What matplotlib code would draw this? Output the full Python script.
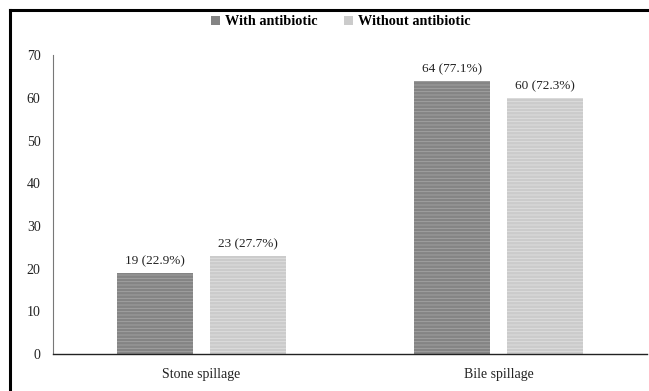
import matplotlib
matplotlib.use("Agg")
import matplotlib.pyplot as plt
from matplotlib.lines import Line2D
from matplotlib.patches import Patch
import numpy as np

plt.rcParams['font.family'] = ['Liberation Serif', 'DejaVu Serif']
plt.rcParams['hatch.linewidth'] = 0.6

categories = ["Stone spillage", "Bile spillage"]
series_names = ["With antibiotic", "Without antibiotic"]
with_ab = [19, 64]
without_ab = [23, 60]
with_labels = ["19 (22.9%)", "64 (77.1%)"]
without_labels = ["23 (27.7%)", "60 (72.3%)"]
yticks = [0, 10, 20, 30, 40, 50, 60, 70]

fig = plt.figure(figsize=(6.49, 3.91), dpi=100)
ax = fig.add_axes([0.0817, 0.0946, 0.915, 0.7644])

x = np.arange(len(categories))
w = 0.256
off = 0.157
c1, c2 = "#848484", "#cbcbcb"
b1 = ax.bar(x - off, with_ab, w, color=c1, edgecolor="#a5a5a5", hatch="-----", linewidth=0)
b2 = ax.bar(x + off, without_ab, w, color=c2, edgecolor="#e0e0e0", hatch="-----", linewidth=0)

for xi, v, t in zip(x - off, with_ab, with_labels):
    ax.text(xi, v + 1.3, t, ha="center", va="bottom", fontsize=9.5, color="#222222")
for xi, v, t in zip(x + off, without_ab, without_labels):
    ax.text(xi, v + 1.3, t, ha="center", va="bottom", fontsize=9.5, color="#222222")

ax.set_xlim(-0.5, 1.5)
ax.set_ylim(0, 70)
ax.set_xticks(x)
ax.set_xticklabels(categories, fontsize=10)
ax.set_yticks(yticks)
ax.set_yticklabels([str(t) for t in yticks], fontsize=10)
ax.tick_params(length=0, colors="#222222")
ax.tick_params(axis="y", pad=9)
ax.tick_params(axis="x", pad=10)
for s in ["top", "right"]:
    ax.spines[s].set_visible(False)
ax.spines["left"].set_color("#777777")
ax.spines["left"].set_linewidth(0.8)
ax.spines["bottom"].set_color("#222222")
ax.spines["bottom"].set_linewidth(1.0)

handles = [Patch(facecolor=c1, edgecolor="none"), Patch(facecolor=c2, edgecolor="none")]
leg = fig.legend(handles, series_names, loc="center", bbox_to_anchor=(0.525, 0.944),
                 ncol=2, frameon=False, handlelength=0.6, handleheight=0.6,
                 handletextpad=0.35, columnspacing=1.9, prop={"weight": "bold", "size": 10.3})

fig.add_artist(Line2D([0.0154, 1.0], [0.974, 0.974], color="black", lw=2.2, transform=fig.transFigure))
fig.add_artist(Line2D([0.0154, 0.0154], [0.0, 0.974], color="black", lw=2.2, transform=fig.transFigure))

fig.savefig("out.png", dpi=100)
